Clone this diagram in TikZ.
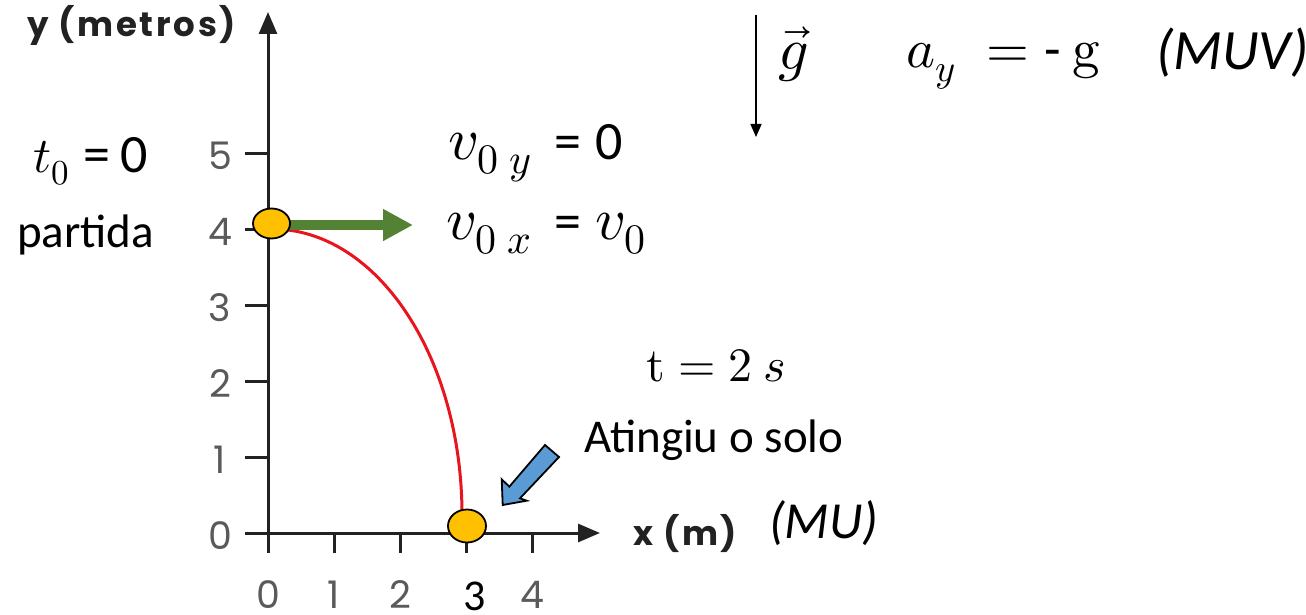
\documentclass[tikz,border=0pt]{standalone}
\usepackage{unicode-math}
\setmainfont{Carlito}
\newfontfamily\axfont{Poppins}
\newfontfamily\axboldfont[LetterSpace=8]{Poppins Bold}
\usetikzlibrary{arrows.meta,shapes.geometric}
\definecolor{axcol}{HTML}{222222}
\definecolor{labcol}{HTML}{5A5A5A}
\definecolor{ballcol}{HTML}{FFC000}
\definecolor{greencol}{HTML}{548235}
\definecolor{redcol}{HTML}{E8141E}
\definecolor{bluecol}{HTML}{5B9BD5}
\tikzset{
  axis/.style={line width=3pt, color=axcol},
  tick/.style={line width=3pt, color=axcol},
  ticklab/.style={font=\axfont\fontsize{38}{44}\selectfont, text=labcol, inner sep=0pt},
  axtitle/.style={font=\axboldfont\fontsize{34}{40}\selectfont, text=axcol, anchor=base west, inner sep=0pt},
  ball/.style={ellipse, draw=black, line width=1.8pt, fill=ballcol, inner sep=0pt},
  txt/.style={font=\fontsize{47}{56}\selectfont, text=black, anchor=base west, inner sep=0pt},
  itxt/.style={font=\itshape\fontsize{52}{60}\selectfont, text=black, anchor=base west, inner sep=0pt},
  mathtxt/.style={font=\fontsize{60}{70}\selectfont, text=black, anchor=base west, inner sep=0pt}
}
\newcommand{\eqtxt}[1]{{\fontsize{54}{62}\selectfont #1}}
\begin{document}
\begin{tikzpicture}[x=1pt,y=-1pt]
\useasboundingbox (0,0) rectangle (1306,615);
% axes
\coordinate (ybot) at (268,553);
\coordinate (ytop) at (268,12);
\coordinate (xleft) at (245,533);
\coordinate (xright) at (600,533);
\draw[axis,-{Triangle[length=22pt,width=18pt]}] (ybot) -- (ytop);
\draw[axis,-{Triangle[length=22pt,width=18pt]}] (xleft) -- (xright);
% y ticks and labels
\foreach \v/\yy in {0/533,1/457,2/381,3/305,4/229,5/153}{
  \draw[tick] (245,\yy) -- (268,\yy);
  \node[ticklab] (yl\v) at (220,\yy+3) {\v};
}
% x ticks and labels
\foreach \v/\xx in {1/334,2/400,3/466,4/532}{
  \draw[tick] (\xx,533) -- (\xx,553);
}
\foreach \v/\xx in {0/268,1/334,2/400,4/532}{
  \node[ticklab] (xl\v) at (\xx,595) {\v};
}
\node[font=\fontsize{44}{52}\selectfont, inner sep=0pt] (xl3) at (475,596) {3};
% axis titles
\node[axtitle] (ytitle) at (27,37) {y (metros)};
\node[axtitle] (xtitle) at (633,545) {x (m)};
% trajectory
\coordinate (start) at (272,229);
\coordinate (land) at (462,515);
\draw[redcol, line width=3pt] (start) .. controls (377,229) and (462,357) .. (land);
% green velocity arrow
\coordinate (vtail) at (286,225);
\coordinate (vend) at (413,225);
\draw[greencol, line width=10pt, -{Triangle[length=30pt,width=30pt]}] (vtail) -- (vend);
% balls
\node[ball, minimum width=37pt, minimum height=30pt] (b0) at (271.5,223.5) {};
\node[ball, minimum width=38pt, minimum height=33pt] (b1) at (467,526) {};
% blue block arrow
\filldraw[fill=bluecol, draw=black, line width=1.8pt, line join=miter]
  (545,445) -- (559,457) -- (520,498.3) -- (526.7,500.7) -- (502.7,505) -- (501.7,479.3) -- (509.3,486.7) -- cycle;
% gravity arrow
\coordinate (gtop) at (756,15);
\coordinate (gbot) at (756,137);
\draw[line width=1.5pt, -{Triangle[length=13pt,width=11pt]}] (gtop) -- (gbot);
\node[mathtxt] (gvec) at (778,70) {$\vec{g}$};
\node[mathtxt, font=\fontsize{55}{64}\selectfont] (ay) at (906,68) {$a_y\;=\;$\eqtxt{-}\hspace{12pt}$\symup{g}$};
\node[itxt, font=\itshape\fontsize{57}{64}\selectfont] (muv) at (1156,70) {(MUV)};
% left labels
\node[txt] (t0) at (33,172) {{\fontsize{50}{60}\selectfont$t_0$}\hspace{14pt}\eqtxt{=\hspace{10pt}0}};
\node[txt] (partida) at (17,247) {partida};
% velocity labels
\node[mathtxt] (v0y) at (448,159) {$v_{0\;y}$\hspace{22pt}\eqtxt{=\hspace{14pt}0}};
\node[mathtxt] (v0x) at (446,239) {$v_{0\;x}$\hspace{22pt}\eqtxt{=}\hspace{14pt}$v_0$};
% landing labels
\node[mathtxt, font=\fontsize{48}{56}\selectfont] (tland) at (646,381) {$\symup{t} = 2\ s$};
\node[txt] (ating) at (584,452) {Atingiu o solo};
\node[itxt] (mu) at (769,538) {(MU)};
\end{tikzpicture}
\end{document}
